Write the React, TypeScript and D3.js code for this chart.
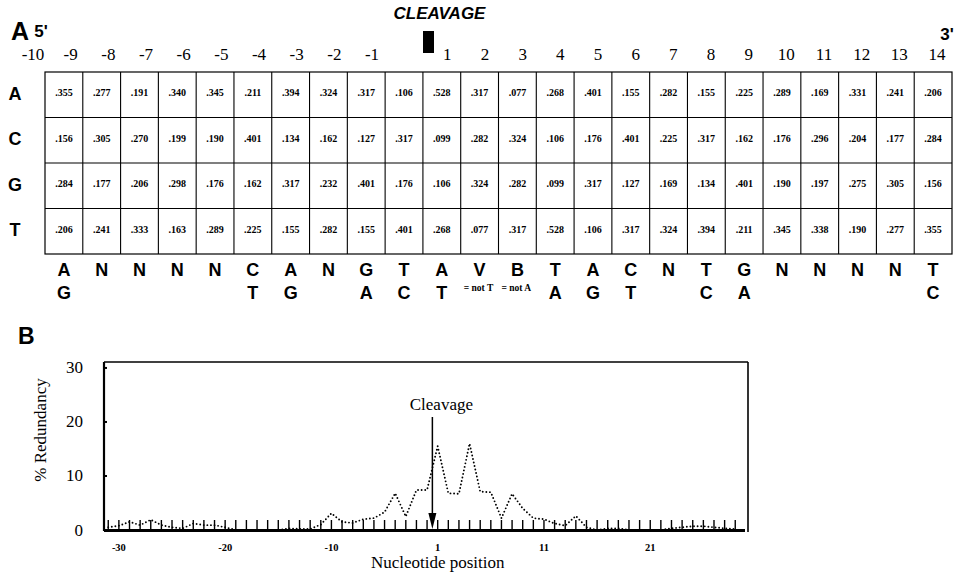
import React from "react";
import * as d3 from "d3";

// ---------- Panel A data ----------
const positions = [-10, -9, -8, -7, -6, -5, -4, -3, -2, -1, 1, 2, 3, 4, 5, 6, 7, 8, 9, 10, 11, 12, 13, 14];
const bases = ["A", "C", "G", "T"];
const freqA = [0.355, 0.277, 0.191, 0.340, 0.345, 0.211, 0.394, 0.324, 0.317, 0.106, 0.528, 0.317, 0.077, 0.268, 0.401, 0.155, 0.282, 0.155, 0.225, 0.289, 0.169, 0.331, 0.241, 0.206];
const freqC = [0.156, 0.305, 0.270, 0.199, 0.190, 0.401, 0.134, 0.162, 0.127, 0.317, 0.099, 0.282, 0.324, 0.106, 0.176, 0.401, 0.225, 0.317, 0.162, 0.176, 0.296, 0.204, 0.177, 0.284];
const freqG = [0.284, 0.177, 0.206, 0.298, 0.176, 0.162, 0.317, 0.232, 0.401, 0.176, 0.106, 0.324, 0.282, 0.099, 0.317, 0.127, 0.169, 0.134, 0.401, 0.190, 0.197, 0.275, 0.305, 0.156];
const freqT = [0.206, 0.241, 0.333, 0.163, 0.289, 0.225, 0.155, 0.282, 0.155, 0.401, 0.268, 0.077, 0.317, 0.528, 0.106, 0.317, 0.324, 0.394, 0.211, 0.345, 0.338, 0.190, 0.277, 0.355];
const consensus1 = ["A", "N", "N", "N", "N", "C", "A", "N", "G", "T", "A", "V", "B", "T", "A", "C", "N", "T", "G", "N", "N", "N", "N", "T"];
const consensus2 = ["G", "", "", "", "", "T", "G", "", "A", "C", "T", "", "", "A", "G", "T", "", "C", "A", "", "", "", "", "C"];
const notes = ["", "", "", "", "", "", "", "", "", "", "", "= not T", "= not A", "", "", "", "", "", "", "", "", "", "", ""];

// ---------- Panel B data ----------
const redPos = [-31, -30, -29, -28, -27, -26, -25, -24, -23, -22, -21, -20, -19, -18, -17, -16, -15, -14, -13, -12, -11, -10, -9, -8, -7, -6, -5, -4, -3, -2, -1,
  1, 2, 3, 4, 5, 6, 7, 8, 9, 10, 11, 12, 13, 14, 15, 16, 17, 18, 19, 20, 21, 22, 23, 24, 25, 26, 27, 28, 29];
const redundancy = [0.5, 0.8, 1.5, 0.9, 1.9, 0.9, 0.5, 0.3, 1.2, 0.9, 0.9, 0.5, 0, 0, 0, 0, 0, 0.3, 0.2, 0.2, 1.0, 3.1, 1.5, 1.3, 2.0, 2.2, 3.3, 6.8, 2.5, 7.4, 7.4,
  15.5, 6.8, 6.7, 16.0, 7.1, 7.0, 2.2, 6.7, 4.0, 2.2, 2.0, 1.2, 0.8, 2.6, 0.5, 0, 0.3, 0.3, 0, 0, 0, 0, 0.3, 0.5, 0.7, 0.7, 0.5, 0.3, 0.2];
const xTickLabels = [-30, -20, -10, 1, 11, 21];
const yTicks = [0, 10, 20, 30];

const SERIF = "'Liberation Serif', 'Times New Roman', serif";
const SANS = "'Liberation Sans', Arial, sans-serif";

export default function App() {
  const W = 967, H = 577;
  const freqs = [freqA, freqC, freqG, freqT];

  // Panel A scales
  const col = d3.scaleBand<number>().domain(positions).range([45, 952]);
  const row = d3.scaleBand<string>().domain(bases).range([72, 254]);
  const head = d3.scaleLinear().domain([-10, 14]).range([33, 937]);
  const fmt = (v: number) => d3.format(".3f")(v).replace(/^0/, "");

  // Panel B scales
  const idx = (p: number) => (p < 0 ? p : p - 1);
  const x = d3.scaleLinear().domain([-31.4, 29.2]).range([104, 748]);
  const y = d3.scaleLinear().domain([0, 31.1]).range([530, 362]);
  const line = d3.line<number>()
    .x((_, i) => x(idx(redPos[i])))
    .y((d) => y(d));
  const arrowX = x(-0.5);

  return (
    <svg width={W} height={H} style={{ position: "absolute", left: 0, top: 0, background: "#fff" }}>
      {/* ---------- Panel A ---------- */}
      <text x={11} y={40} fontFamily={SANS} fontWeight="bold" fontSize={25}>A</text>
      <text x={head(-10) + 8} y={37} textAnchor="middle" fontFamily={SANS} fontWeight="bold" fontSize={17}>5'</text>
      <text x={head(14) + 10} y={40} textAnchor="middle" fontFamily={SANS} fontWeight="bold" fontSize={17}>3'</text>
      <text x={head(0.5) + 11} y={19} textAnchor="middle" fontFamily={SANS} fontWeight="bold" fontStyle="italic" fontSize={17}>CLEAVAGE</text>
      <rect x={head(0.5) - 5.5} y={31} width={11} height={22} fill="#000" />
      {positions.map((p) => (
        <text key={"h" + p} x={head(p)} y={60} textAnchor="middle" fontFamily={SERIF} fontSize={17}>{p}</text>
      ))}
      {/* grid */}
      <rect x={col.range()[0]} y={row.range()[0]} width={col.range()[1] - col.range()[0]} height={row.range()[1] - row.range()[0]} fill="none" stroke="#000" strokeWidth={1.2} />
      {bases.slice(1).map((b) => (
        <line key={"hl" + b} x1={col.range()[0]} x2={col.range()[1]} y1={row(b)} y2={row(b)} stroke="#000" strokeWidth={1.2} />
      ))}
      {positions.slice(1).map((p) => (
        <line key={"vl" + p} x1={col(p)} x2={col(p)} y1={row.range()[0]} y2={row.range()[1]} stroke="#000" strokeWidth={1.1} />
      ))}
      {bases.map((b, bi) => (
        <g key={"r" + b}>
          <text x={15} y={(row(b) as number) + row.bandwidth() / 2 - 1} dominantBaseline="central" textAnchor="middle" fontFamily={SANS} fontWeight="bold" fontSize={18}>{b}</text>
          {positions.map((p, pi) => (
            <text key={p} x={(col(p) as number) + col.bandwidth() / 2} y={(row(b) as number) + row.bandwidth() / 2 - 2} dominantBaseline="central" textAnchor="middle" fontFamily={SERIF} fontWeight="bold" fontSize={10}>{fmt(freqs[bi][pi])}</text>
          ))}
        </g>
      ))}
      {positions.map((p, pi) => (
        <g key={"c" + p}>
          <text x={(col(p) as number) + col.bandwidth() / 2} y={276} textAnchor="middle" fontFamily={SANS} fontWeight="bold" fontSize={18}>{consensus1[pi]}</text>
          <text x={(col(p) as number) + col.bandwidth() / 2} y={299} textAnchor="middle" fontFamily={SANS} fontWeight="bold" fontSize={18}>{consensus2[pi]}</text>
          {notes[pi] && (
            <text x={(col(p) as number) + 3} y={291} textAnchor="start" fontFamily={SERIF} fontWeight="bold" fontSize={9.5}>{notes[pi]}</text>
          )}
        </g>
      ))}

      {/* ---------- Panel B ---------- */}
      <text x={18} y={344} fontFamily={SANS} fontWeight="bold" fontSize={23}>B</text>
      <text transform={`translate(46,430) rotate(-90)`} textAnchor="middle" fontFamily={SERIF} fontSize={17}>% Redundancy</text>
      {yTicks.map((t) => (
        <g key={"yt" + t}>
          <text x={83} y={y(t)} dominantBaseline="central" textAnchor="end" fontFamily={SERIF} fontSize={17}>{t}</text>
          {t > 0 && <line x1={x.range()[0]} x2={x.range()[0] + 3} y1={y(t)} y2={y(t)} stroke="#000" strokeWidth={2} />}
        </g>
      ))}
      {/* frame */}
      <line x1={x.range()[0]} x2={x.range()[1]} y1={y.range()[1]} y2={y.range()[1]} stroke="#000" strokeWidth={1.6} />
      <line x1={x.range()[1]} x2={x.range()[1]} y1={y.range()[1]} y2={y(0) + 2} stroke="#000" strokeWidth={1.6} />
      <line x1={x.range()[0]} x2={x.range()[0]} y1={y.range()[1]} y2={y(0) + 1} stroke="#000" strokeWidth={2.2} />
      <line x1={x.range()[0]} x2={x.range()[1] - 3} y1={y(0) + 0.5} y2={y(0) + 0.5} stroke="#000" strokeWidth={3} />
      {redPos.map((p) => (
        <line key={"xt" + p} x1={x(idx(p))} x2={x(idx(p))} y1={y(0)} y2={y(0) - 10} stroke="#000" strokeWidth={1.4} />
      ))}
      {xTickLabels.map((p) => (
        <text key={"xl" + p} x={x(idx(p))} y={551} textAnchor="middle" fontFamily={SERIF} fontWeight="bold" fontSize={10.5}>{p}</text>
      ))}
      <text x={x(0)} y={568} textAnchor="middle" fontFamily={SERIF} fontSize={17}>Nucleotide position</text>
      <path d={line(redundancy) || ""} fill="none" stroke="#000" strokeWidth={1.9} strokeDasharray="0 3.6" strokeLinecap="round" />
      {/* cleavage arrow */}
      <line x1={arrowX} x2={arrowX} y1={417} y2={516} stroke="#000" strokeWidth={1.5} />
      <path d={`M${arrowX - 4},${513} L${arrowX + 4},${513} L${arrowX},${529} Z`} fill="#000" />
      <text x={arrowX + 9} y={410} textAnchor="middle" fontFamily={SERIF} fontSize={17}>Cleavage</text>
    </svg>
  );
}
